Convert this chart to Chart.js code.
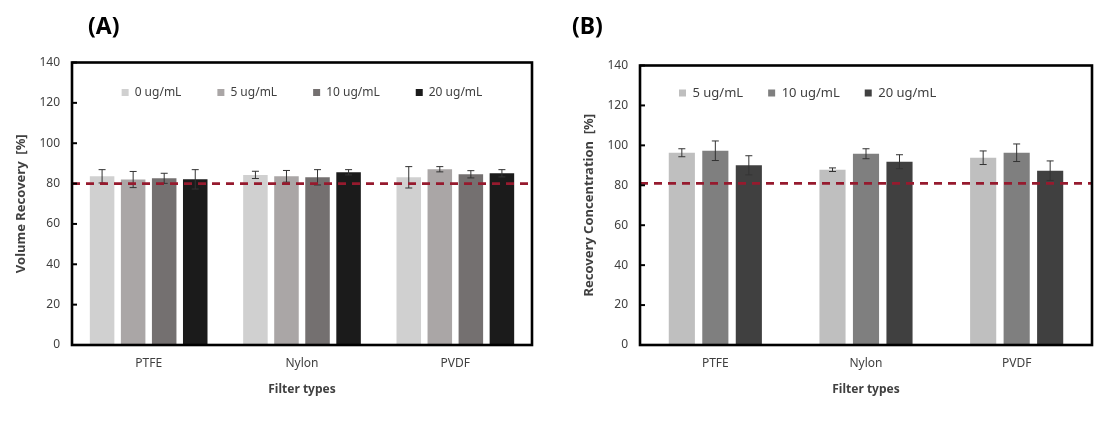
<!DOCTYPE html>
<html>
<head>
<meta charset="utf-8">
<script src="https://cdn.jsdelivr.net/npm/chart.js@4.4.1/dist/chart.umd.min.js"></script>
<style>
  body { margin: 0; background: #fff; width: 1108px; height: 422px; position: relative; overflow: hidden; font-family: 'Noto Sans', sans-serif; }
  .panel { position: absolute; top: 0; width: 554px; height: 422px; }
  #pa { left: 0; }
  #pb { left: 554px; }
  .tag { position: absolute; font-weight: bold; font-size: 23px; color: #000; line-height: 28px; }
</style>
</head>
<body>
<div class="panel" id="pa"><canvas id="graficoA"></canvas></div>
<div class="panel" id="pb"><canvas id="graficoB"></canvas></div>
<div class="tag" style="left:88px;top:11px">(A)</div>
<div class="tag" style="left:572px;top:11px">(B)</div>
<script>
// datos
const filtros = ['PTFE', 'Nylon', 'PVDF'];
const ticksY = [0, 20, 40, 60, 80, 100, 120, 140];

// (A) Volume recovery
const seriesA = ['0 ug/mL', '5 ug/mL', '10 ug/mL', '20 ug/mL'];
const volA0 = [83.6, 84.3, 83.1];
const volA5 = [82.0, 83.6, 87.1];
const volA10 = [82.6, 83.1, 84.6];
const volA20 = [82.1, 85.6, 85.1];
const errA0 = [3.3, 1.8, 5.3];
const errA5 = [4.0, 2.9, 1.3];
const errA10 = [2.5, 3.8, 1.8];
const errA20 = [4.8, 1.3, 1.8];
const limiteA = 80;

// (B) Recovery concentration
const seriesB = ['5 ug/mL', '10 ug/mL', '20 ug/mL'];
const concB5 = [96.3, 87.8, 93.8];
const concB10 = [97.3, 95.8, 96.3];
const concB20 = [90.0, 91.8, 87.3];
const errB5 = [2.0, 0.9, 3.4];
const errB10 = [4.9, 2.5, 4.4];
const errB20 = [4.8, 3.5, 4.9];
const limiteB = 81;

Chart.defaults.font.family = "'Noto Sans', sans-serif";
Chart.defaults.color = '#404040';

// leyenda dentro del area, barras de error, linea limite, marco y ticks hacia dentro
const extras = {
    id: 'extras',
    afterLayout(chart, args, opts) {
        const lg = chart.legend, a = chart.chartArea;
        if (!lg) return;
        lg.left = a.left + opts.dx;
        lg.right = a.right + opts.dx;
        lg.top = a.top + opts.dy;
        lg.bottom = a.bottom;
        lg.width = lg.right - lg.left;
        lg.height = lg.bottom - lg.top;
    },
    afterDatasetsDraw(chart, args, opts) {
        const ctx = chart.ctx, a = chart.chartArea, y = chart.scales.y;
        ctx.save();
        ctx.strokeStyle = '#333';
        ctx.lineWidth = 1;
        chart.data.datasets.forEach((ds, i) => {
            chart.getDatasetMeta(i).data.forEach((bar, j) => {
                const v = ds.data[j], e = ds.errores[j];
                const t = y.getPixelForValue(v + e), b = y.getPixelForValue(v - e);
                ctx.beginPath();
                ctx.moveTo(bar.x, t); ctx.lineTo(bar.x, b);
                ctx.moveTo(bar.x - 3.5, t); ctx.lineTo(bar.x + 3.5, t);
                ctx.moveTo(bar.x - 3.5, b); ctx.lineTo(bar.x + 3.5, b);
                ctx.stroke();
            });
        });
        // limite
        const py = y.getPixelForValue(opts.limite);
        ctx.strokeStyle = '#961a2e';
        ctx.lineWidth = 2.8;
        ctx.setLineDash([8, 6]);
        ctx.beginPath();
        ctx.moveTo(a.left, py); ctx.lineTo(a.right, py);
        ctx.stroke();
        ctx.setLineDash([]);
        // ticks
        ctx.strokeStyle = '#000';
        ctx.lineWidth = 2;
        y.ticks.forEach(tk => {
            const p = y.getPixelForValue(tk.value);
            ctx.beginPath();
            ctx.moveTo(a.left, p); ctx.lineTo(a.left + 5, p);
            ctx.stroke();
        });
        // marco
        ctx.lineWidth = 2.6;
        ctx.strokeRect(a.left, a.top, a.right - a.left, a.bottom - a.top);
        ctx.restore();
    }
};

function crear(id, cfg) {
    const ds = cfg.valores.map((v, i) => ({
        label: cfg.series[i],
        data: v,
        errores: cfg.errores[i],
        backgroundColor: cfg.colores[i],
        borderWidth: 0,
        categoryPercentage: cfg.catPct,
        barPercentage: cfg.barPct
    }));
    return new Chart(document.getElementById(id), {
        type: 'bar',
        data: { labels: filtros, datasets: ds },
        plugins: [extras],
        options: {
            responsive: true,
            maintainAspectRatio: false,
            animation: false,
            layout: { padding: cfg.padding },
            plugins: {
                tooltip: { enabled: false },
                legend: {
                    position: 'top',
                    align: cfg.align,
                    maxHeight: 0.5,
                    labels: {
                        boxWidth: 7, boxHeight: 7,
                        padding: cfg.legPad,
                        color: '#404040',
                        font: { size: cfg.legFont }
                    }
                },
                extras: { dx: cfg.legDx, dy: cfg.legDy, limite: cfg.limite }
            },
            scales: {
                x: {
                    grid: { display: false, drawTicks: false },
                    border: { display: false },
                    ticks: { padding: 11, color: '#404040', font: { size: 12 } },
                    title: { display: true, text: 'Filter types', color: '#404040', font: { size: 12, weight: 'bold' }, padding: { top: 4, bottom: 4 } },
                    afterFit(s) { s.height = 56; }
                },
                y: {
                    min: 0, max: 140,
                    afterBuildTicks(s) { s.ticks = ticksY.map(v => ({ value: v })); },
                    grid: { display: false, drawTicks: false },
                    border: { display: false },
                    ticks: { padding: 12, color: '#404040', font: { size: 12 } },
                    title: { display: true, text: cfg.tituloY, color: '#404040', font: { size: 13, weight: 'bold' }, padding: { top: 3, bottom: 3 } },
                    afterFit(s) { s.width = 62; }
                }
            }
        }
    });
}

crear('graficoA', {
    series: seriesA,
    valores: [volA0, volA5, volA10, volA20],
    errores: [errA0, errA5, errA10, errA20],
    colores: ['#d0d0d0', '#aaa6a6', '#747070', '#1b1b1b'],
    catPct: 0.81, barPct: 0.79,
    padding: { left: 10, right: 22, top: 62, bottom: 21 },
    align: 'center', legPad: 36, legFont: 12, legDx: 0, legDy: -12,
    tituloY: 'Volume Recovery  [%]',
    limite: limiteA
});

crear('graficoB', {
    series: seriesB,
    valores: [concB5, concB10, concB20],
    errores: [errB5, errB10, errB20],
    colores: ['#bfbfbf', '#7f7f7f', '#404040'],
    catPct: 0.667, barPct: 0.78,
    padding: { left: 24, right: 16, top: 65, bottom: 21 },
    align: 'start', legPad: 25, legFont: 13, legDx: 14, legDy: -4,
    tituloY: 'Recovery Concentration  [%]',
    limite: limiteB
});
</script>
</body>
</html>
